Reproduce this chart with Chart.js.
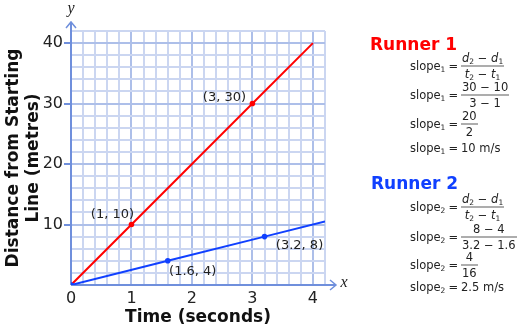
<!DOCTYPE html>
<html lang="en">
<head>
  <meta charset="UTF-8" />
  <title>Runner distance vs time</title>
  <style>
    body{margin:0;background:#fff}
    #wrap{position:relative;width:518px;height:331px;font-family:'DejaVu Sans',sans-serif;color:#222}
    #chart{position:absolute;left:0;top:0}
    .head{position:absolute;font-weight:bold;font-size:17px;line-height:1;transform:translateY(-50%)}
    .row{position:absolute;left:410px;display:flex;align-items:center;transform:translateY(-50%);font-size:11.5px;white-space:nowrap}
    .row sub{font-size:7.5px;vertical-align:-2px;line-height:0}
    .eq{margin:0 3px 0 3px}
    .frac{display:inline-flex;flex-direction:column;align-items:center;line-height:12px}
    .frac .bar{align-self:stretch;height:2px;background:#adadad;margin:1px 0}
    .frac span{padding:0 1px}
  </style>
</head>
<body>
<div id="wrap">
  <canvas id="chart" width="518" height="331"></canvas>

  <div class="head" style="left:370px;top:44px;color:#ff0000">Runner 1</div>
  <div class="row" style="top:66px"><span>slope<sub>1</sub></span><span class="eq">=</span>
    <span class="frac"><span><i>d</i><sub>2</sub> − <i>d</i><sub>1</sub></span><span class="bar"></span><span><i>t</i><sub>2</sub> − <i>t</i><sub>1</sub></span></span></div>
  <div class="row" style="top:95px"><span>slope<sub>1</sub></span><span class="eq">=</span>
    <span class="frac"><span>30 − 10</span><span class="bar"></span><span>3 − 1</span></span></div>
  <div class="row" style="top:124px"><span>slope<sub>1</sub></span><span class="eq">=</span>
    <span class="frac"><span>20</span><span class="bar"></span><span>2</span></span></div>
  <div class="row" style="top:148px"><span>slope<sub>1</sub></span><span class="eq">=</span><span>10 m/s</span></div>

  <div class="head" style="left:371px;top:183px;color:#1040ff">Runner 2</div>
  <div class="row" style="top:207px"><span>slope<sub>2</sub></span><span class="eq">=</span>
    <span class="frac"><span><i>d</i><sub>2</sub> − <i>d</i><sub>1</sub></span><span class="bar"></span><span><i>t</i><sub>2</sub> − <i>t</i><sub>1</sub></span></span></div>
  <div class="row" style="top:237px"><span>slope<sub>2</sub></span><span class="eq">=</span>
    <span class="frac"><span>8 − 4</span><span class="bar"></span><span>3.2 − 1.6</span></span></div>
  <div class="row" style="top:265px"><span>slope<sub>2</sub></span><span class="eq">=</span>
    <span class="frac"><span>4</span><span class="bar"></span><span>16</span></span></div>
  <div class="row" style="top:287px"><span>slope<sub>2</sub></span><span class="eq">=</span><span>2.5 m/s</span></div>
</div>

<script src="https://cdn.jsdelivr.net/npm/chart.js"></script>
<script>
// time (s) and distance (m) for each runner
const runner1T = [0, 1, 3, 4];
const runner1D = [0, 10, 30, 40];
const runner1Tags = ['', '(1, 10)', '(3, 30)', ''];
const runner2T = [0, 1.6, 3.2, 4.2];
const runner2D = [0, 4, 8, 10.5];
const runner2Tags = ['', '(1.6, 4)', '(3.2, 8)', ''];

const xTickLabels = ['0', '1', '2', '3', '4'];
const yTickLabels = ['10', '20', '30', '40'];
const xMax = 4.2, yMax = 42;

// where each coordinate tag sits relative to its dot
const tagOffset = {
  '(1, 10)': [-19, -10], '(3, 30)': [-28, -6],
  '(1.6, 4)': [25, 11], '(3.2, 8)': [35, 9]
};

const axisBlue = '#6f8fdc';
const gridLight = '#cbd6f1';
const gridDark = '#adbfe9';
const isWhole = v => Math.abs(v - Math.round(v)) < 1e-6;

// arrows, axis lines and the x / y letters
const axesPlugin = {
  id: 'axes',
  beforeDatasetsDraw(chart) {
    const {ctx, chartArea: a, scales: {x, y}} = chart;
    const x0 = x.getPixelForValue(0), y0 = y.getPixelForValue(0);
    const topY = a.top - 9, rightX = a.right + 11;
    ctx.save();
    ctx.strokeStyle = axisBlue;
    ctx.lineWidth = 2;
    ctx.beginPath();
    ctx.moveTo(x0, y0); ctx.lineTo(x0, topY);
    ctx.moveTo(x0, y0); ctx.lineTo(rightX, y0);
    ctx.stroke();
    ctx.lineWidth = 1.5;
    ctx.beginPath();
    ctx.moveTo(x0 - 5, topY + 6); ctx.lineTo(x0, topY); ctx.lineTo(x0 + 5, topY + 6);
    ctx.moveTo(rightX - 6, y0 - 5); ctx.lineTo(rightX, y0); ctx.lineTo(rightX - 6, y0 + 5);
    ctx.stroke();
    ctx.fillStyle = '#222';
    ctx.font = 'italic 16px "Liberation Serif"';
    ctx.textAlign = 'center';
    ctx.textBaseline = 'middle';
    ctx.fillText('y', x0, topY - 13);
    ctx.fillText('x', rightX + 8, y0 - 2);
    ctx.restore();
  }
};

// coordinate tags next to the plotted points
const tagsPlugin = {
  id: 'tags',
  afterDatasetsDraw(chart) {
    const {ctx} = chart;
    ctx.save();
    ctx.font = '13px "DejaVu Sans"';
    ctx.fillStyle = '#222';
    ctx.textAlign = 'center';
    ctx.textBaseline = 'middle';
    chart.data.datasets.forEach((ds, i) => {
      chart.getDatasetMeta(i).data.forEach((pt, j) => {
        const t = ds.tags[j];
        if (!t) return;
        const [dx, dy] = tagOffset[t];
        ctx.fillText(t, pt.x + dx, pt.y + dy);
      });
    });
    ctx.restore();
  }
};

new Chart(document.getElementById('chart'), {
  type: 'scatter',
  data: {
    datasets: [
      {
        label: 'Runner 1',
        data: runner1T.map((t, i) => ({x: t, y: runner1D[i]})),
        tags: runner1Tags,
        showLine: true,
        borderColor: '#ff0000', backgroundColor: '#ff0000',
        borderWidth: 2, pointBorderWidth: 0,
        pointRadius: runner1Tags.map(t => t ? 2.8 : 0),
        order: 2
      },
      {
        label: 'Runner 2',
        data: runner2T.map((t, i) => ({x: t, y: runner2D[i]})),
        tags: runner2Tags,
        showLine: true,
        borderColor: '#1040ff', backgroundColor: '#1040ff',
        borderWidth: 2, pointBorderWidth: 0,
        pointRadius: runner2T.map((t, i) => (t === 0 || runner2Tags[i]) ? 2.8 : 0),
        order: 1
      }
    ]
  },
  options: {
    responsive: false,
    animation: false,
    devicePixelRatio: 1,
    layout: {padding: {top: 31, right: 193, left: 0, bottom: 0}},
    plugins: {legend: {display: false}, tooltip: {enabled: false}},
    scales: {
      x: {
        type: 'linear', min: 0, max: xMax,
        afterBuildTicks: s => { s.ticks = Array.from({length: 22}, (_, i) => ({value: i / 5})); },
        afterFit: s => { s.height = 46; },
        border: {display: false},
        grid: {
          drawTicks: false, lineWidth: 2,
          color: c => isWhole(c.tick.value) ? gridDark : gridLight
        },
        ticks: {
          autoSkip: false, maxRotation: 0, padding: 4,
          color: '#222', font: {family: 'DejaVu Sans', size: 16},
          callback: v => isWhole(v) && xTickLabels.includes(String(Math.round(v))) ? String(Math.round(v)) : ''
        },
        title: {
          display: true, text: 'Time (seconds)', color: '#111',
          font: {family: 'DejaVu Sans', size: 17, weight: 'bold'},
          padding: {top: 0, bottom: 3}
        }
      },
      y: {
        type: 'linear', min: 0, max: yMax,
        afterBuildTicks: s => { s.ticks = Array.from({length: 22}, (_, i) => ({value: i * 2})); },
        afterFit: s => { s.width = 71; },
        border: {display: false},
        grid: {
          lineWidth: 2, tickLength: 7, tickWidth: 2,
          color: c => c.tick.value % 10 === 0 ? gridDark : gridLight,
          tickColor: c => yTickLabels.includes(String(c.tick.value)) ? axisBlue : 'rgba(0,0,0,0)'
        },
        ticks: {
          autoSkip: false, padding: 1,
          color: '#222', font: {family: 'DejaVu Sans', size: 16},
          callback: v => yTickLabels.includes(String(v)) ? String(v) : ''
        },
        title: {
          display: true, text: ['Distance from Starting', 'Line (metres)'], color: '#111',
          font: {family: 'DejaVu Sans', size: 17, weight: 'bold'},
          padding: {top: 3, bottom: 0}
        }
      }
    }
  },
  plugins: [axesPlugin, tagsPlugin]
});
</script>
</body>
</html>
